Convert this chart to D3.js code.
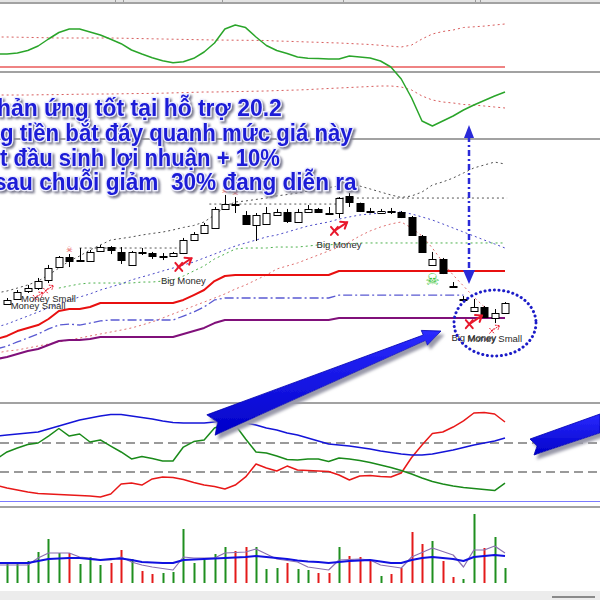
<!DOCTYPE html>
<html><head><meta charset="utf-8">
<script src="https://cdn.jsdelivr.net/npm/d3@7"></script>
<style>body{margin:0;background:#fff}svg{display:block}</style>
</head><body>
<svg id="c" width="600" height="600"></svg>
<script>
// ---------- DATA ----------
// candles (bar 0..48)
const openP  = [21.07,21.43,22.00,22.21,22.79,23.71,24.43,24.18,24.14,24.86,25.14,24.79,23.86,24.76,24.71,24.50,24.50,24.71,25.64,26.14,26.50,27.86,28.21,27.43,26.71,26.79,27.43,27.64,26.93,27.64,27.86,27.59,27.57,28.79,28.29,27.71,27.57,27.71,27.64,27.29,25.93,23.86,24.29,22.36,21.43,20.57,20.86,20.07,20.43];
const highP  = [21.50,22.07,22.43,22.93,23.86,24.50,24.64,25.07,24.93,25.29,25.21,25.14,24.86,25.07,24.79,24.71,24.79,25.79,26.21,26.86,28.00,28.86,28.71,27.71,27.57,28.00,27.86,27.86,27.86,28.14,27.93,28.00,28.71,29.00,28.31,27.93,27.86,27.93,27.71,27.36,26.00,24.79,24.36,22.64,21.64,21.43,20.93,20.71,21.21];
const lowP   = [21.00,21.36,21.86,22.07,22.57,23.64,23.71,24.07,24.07,24.84,24.64,23.93,23.79,24.57,24.29,24.21,24.46,24.64,25.57,26.07,26.43,27.84,27.57,26.77,25.57,26.77,27.41,26.86,26.91,27.61,27.57,27.54,27.21,28.00,27.64,27.57,27.50,27.50,27.21,25.93,24.77,23.79,23.21,22.32,21.39,20.55,20.07,19.71,20.36];
const closeP = [21.36,21.93,22.21,22.71,23.64,24.43,24.14,24.11,24.79,25.14,24.93,24.21,24.79,24.79,24.50,24.46,24.71,25.64,26.07,26.71,27.86,28.21,28.14,26.79,27.43,27.57,27.64,27.00,27.64,27.86,27.64,27.57,28.64,28.36,27.71,27.64,27.71,27.69,27.29,26.00,24.79,24.29,23.29,22.34,21.41,20.86,20.14,20.43,21.14];
// volume (thousands) and direction (1 = up/green, 0 = down/red)
const volume = [500,500,550,775,1100,750,750,475,650,450,500,825,600,300,225,250,275,1350,500,575,725,900,800,900,900,350,375,500,350,325,250,250,900,675,650,575,175,225,375,1275,975,1050,550,150,100,1725,875,1150,375];
const volUp  = [1,1,1,1,1,1,0,1,1,1,0,0,1,0,0,1,1,1,1,1,1,1,0,0,1,1,1,0,1,1,0,0,1,0,0,0,1,0,0,0,0,1,0,0,1,1,0,1,1];
// indicator series, bars -1..48
const volMaSlow = [500,500,500,500,550,600,612,625,625,600,575,600,612,575,525,512,500,500,575,588,600,612,625,638,650,675,650,625,600,562,538,525,500,525,550,562,575,538,500,500,575,625,650,625,600,550,650,675,700,675];
const volMaFast = [450,450,450,450,625,750,750,750,650,625,575,575,650,525,450,400,362,325,650,625,625,625,750,762,775,850,725,600,562,525,400,362,325,575,588,600,575,450,412,375,650,762,875,788,700,400,825,825,925,750];
const oscMain  = [13,13,14,16.5,21,28,34.5,38,38,35,32,27.7,23.3,17,13,9.3,6.3,4.2,5.3,8.7,15,24,38,42,39.4,30,21.5,16.5,13.5,10,8.8,8.5,8,8,11,10,9,6,0,-12,-31,-54,-59,-54,-49,-43,-38,-33.5,-29,-25];
const oscUpper = [30,30,29.8,29.6,29.4,29.2,29,29,29,29,29,29,28.8,28.6,28.4,28.2,28,27.8,27.6,27.4,27.2,27,26.9,26.8,26.7,26.6,26.5,26,25.7,25.4,25,24.7,24.3,24,23.5,23,22.5,21.7,20.8,20,22,28,33,35.5,37,39.5,40.2,40.9,42,43];
const oscLower = [-28,-28,-28,-28,-27.8,-27.7,-27.6,-27.4,-27.2,-27.1,-27,-27,-26.8,-26.6,-26.5,-26.4,-26.2,-25.9,-25.6,-25.3,-25,-25,-24.8,-24.6,-24.4,-24.2,-24,-23.6,-23.3,-23,-22.6,-22,-21.5,-21,-20.5,-20,-19.5,-19,-19,-20,-23,-29,-33,-35,-36,-37.5,-38,-39,-40,-41];
const upperBand = [21.86,22.00,22.21,22.43,22.71,23.14,23.64,24.14,24.50,24.93,25.29,25.64,25.75,25.86,26.00,26.11,26.21,26.36,26.54,26.68,26.93,27.43,28.00,28.36,28.43,28.54,28.64,28.79,28.89,29.00,29.14,29.29,29.39,29.50,29.57,29.50,29.29,29.07,28.86,28.68,28.79,29.07,29.57,29.79,30.07,30.43,30.79,31.00,31.21,31.07];
const midBand   = [19.43,19.64,19.93,20.21,20.50,20.79,21.07,21.36,21.57,21.79,22.07,22.29,22.50,22.79,23.00,23.21,23.43,23.64,23.86,24.07,24.36,24.64,24.93,25.21,25.43,25.64,25.86,26.00,26.21,26.43,26.64,26.79,26.93,27.14,27.29,27.43,27.50,27.57,27.64,27.64,27.50,27.29,27.07,26.79,26.50,26.21,25.93,25.64,25.36,25.07];
const lowerBand = [17.57,17.71,17.79,17.93,18.07,18.21,18.36,18.50,18.64,18.79,18.93,19.07,19.21,19.36,19.57,19.79,20.07,20.36,20.64,20.93,21.21,21.50,21.79,22.14,22.43,22.79,23.14,23.57,23.79,24.00,24.29,24.57,24.86,25.14,25.50,25.93,26.29,26.57,26.79,26.93,26.50,25.93,25.07,24.07,23.14,22.36,21.57,20.86,null,null];
const trailGreen = [null,null,null,null,null,null,22.21,22.36,22.50,22.57,22.57,22.57,22.57,22.57,22.64,22.64,22.71,22.79,23.07,23.43,23.79,24.29,24.64,25.00,25.07,25.07,25.07,25.14,25.14,25.14,25.21,25.29,25.29,25.36,25.36,25.43,25.43,25.43,25.43,25.43,25.43,25.43,25.43,25.43,25.43,25.43,25.43,25.43,25.43,25.43];
const stopRed    = [18.57,18.79,19.14,19.36,19.57,20.00,20.57,20.71,20.71,20.86,21.14,21.14,21.14,21.14,21.14,21.14,21.14,21.14,21.36,21.71,22.07,22.71,23.07,23.14,23.14,23.14,23.14,23.14,23.14,23.14,23.14,23.14,23.14,23.43,23.43,23.43,23.43,23.43,23.43,23.43,23.43,23.43,23.43,23.43,23.43,23.43,23.43,23.43,23.43,23.43];
const stopBlue   = [17.86,18.07,18.36,18.64,18.93,19.29,19.57,19.64,19.57,19.71,19.86,19.93,19.93,19.93,19.93,19.93,19.93,19.93,20.21,20.50,20.86,21.36,21.50,21.50,21.50,21.50,21.50,21.50,21.50,21.50,21.50,21.50,21.50,21.71,21.71,21.71,21.71,21.71,21.71,21.71,21.71,21.71,21.71,21.71,21.71,21.71,null,null,null,null];
const stopPurple = [17.14,17.29,17.50,17.71,17.86,18.14,18.43,18.50,18.50,18.57,18.71,18.71,18.71,18.71,18.71,18.71,18.71,18.71,18.93,19.14,19.36,19.71,19.93,19.93,19.93,19.93,19.93,19.93,19.93,19.93,19.93,19.93,19.93,20.07,20.07,20.07,20.07,20.07,20.07,20.07,20.07,20.07,20.07,20.07,20.07,20.07,20.07,20.07,20.07,20.07];
const resStart = [7, 19.5, 31.8];
const resEnd   = [16.7, 31.8, 48.2];
const resPrice = [25.07, 28.21, 28.64];
const adx     = [44.8,45.5,46.2,46.9,47.6,49.7,51.7,53.8,55.9,57.2,58.6,59.7,59.7,58.6,57.6,56.6,55.2,54.1,53.8,53.8,53.8,54.5,55.2,55.2,53.8,52.4,50.3,49.0,46.9,45.5,43.4,41.4,39.3,38.6,37.9,36.9,35.9,34.5,33.4,32.4,31.7,31.7,32.4,33.8,35.2,36.9,38.6,40.0,41.4,43.4];
const diPlus  = [29.0,33.8,36.6,39.0,40.0,44.8,50.0,44.8,46.2,40.7,42.1,37.9,33.8,29.0,30.7,29.3,27.6,27.6,37.2,41.0,42.1,50.3,53.1,52.4,42.8,33.8,33.1,31.0,28.6,28.3,29.0,29.0,27.2,29.7,29.0,27.9,26.6,24.8,23.1,21.0,18.6,15.9,13.4,11.7,10.3,9.3,8.6,7.9,7.2,12.4];
const diMinus = [10.7,9.0,7.6,6.2,5.2,4.8,4.5,4.1,3.8,3.4,2.8,4.8,11.7,12.4,11.0,15.2,16.6,16.2,14.8,12.8,11.0,10.0,8.3,11.0,16.6,25.5,22.8,20.7,24.1,21.4,21.0,20.7,20.3,17.9,14.5,17.2,17.6,16.9,16.6,19.3,30.0,38.6,46.6,47.6,51.0,55.2,60.7,61.0,60.0,54.5];
const adxLevels = [20, 40];
// signals
const bigMoneyIdx = [17, 32, 45];
const moneySmallIdx = [3, 4, 47];
const redSkullIdx = [6, 21, 22];
const greenSkullIdx = [41];
const noteLines = ["hản ứng tốt tại hỗ trợ 20.2", "g tiền bắt đáy quanh mức giá này", "t đầu sinh lợi nhuận + 10%", "sau chuỗi giảm\u00a0 30% đang diễn ra"];

// ---------- LAYOUT ----------
const svg = d3.select('#c');
const bars = d3.range(49);
const lineIdx = d3.range(-1, 49);
const x = d3.scaleLinear().domain([0, 48]).range([7, 505]);
const yOsc = d3.scaleLinear().domain([-70, 70]).range([137, -3]);
const yP = d3.scaleLinear().domain([14, 33]).range([403, 137]);
const yAdx = d3.scaleLinear().domain([0, 40]).range([501, 443]);
const yVol = d3.scaleLinear().domain([0, 2000]).range([583, 503]);

const defs = svg.append('defs');
const f = defs.append('filter').attr('id','sh').attr('filterUnits','userSpaceOnUse').attr('x',-20).attr('y',-20).attr('width',640).attr('height',640);
f.append('feGaussianBlur').attr('in','SourceAlpha').attr('stdDeviation',1.3);
f.append('feOffset').attr('dx',2).attr('dy',2).attr('result','b');
f.append('feFlood').attr('flood-color','#7c7c90');
f.append('feComposite').attr('in2','b').attr('operator','in');
const fm = f.append('feMerge'); fm.append('feMergeNode'); fm.append('feMergeNode').attr('in','SourceGraphic');
const f2 = defs.append('filter').attr('id','sh2').attr('x','-10%').attr('y','-30%').attr('width','130%').attr('height','170%');
f2.append('feGaussianBlur').attr('in','SourceAlpha').attr('stdDeviation',1.5);
f2.append('feOffset').attr('dx',3).attr('dy',4).attr('result','b');
f2.append('feFlood').attr('flood-color','#9a9aaa');
f2.append('feComposite').attr('in2','b').attr('operator','in');
const fm2 = f2.append('feMerge'); fm2.append('feMergeNode'); fm2.append('feMergeNode').attr('in','SourceGraphic');
const grad = defs.append('linearGradient').attr('id','ag').attr('x1',0).attr('y1',0).attr('x2',0).attr('y2',1);
grad.append('stop').attr('offset','0%').attr('stop-color','#2a2aff');
grad.append('stop').attr('offset','100%').attr('stop-color','#0000c8');

// frame
svg.append('rect').attr('width',600).attr('height',600).attr('fill','#fff');
svg.append('rect').attr('x',0).attr('y',0).attr('width',600).attr('height',3).attr('fill','#e4e4e4');
[115,123,222,343,475,480].forEach(v=>svg.append('line').attr('x1',v+0.5).attr('x2',v+0.5).attr('y1',0).attr('y2',3).attr('stroke','#9a9a9a'));
[3, 72, 139, 403, 507].forEach(v=>svg.append('line').attr('x1',0).attr('x2',600).attr('y1',v).attr('y2',v).attr('stroke','#a2a2a2').attr('stroke-width',2));
svg.append('rect').attr('x',0).attr('y',591).attr('width',600).attr('height',9).attr('fill','#ececec');
svg.append('line').attr('x1',552).attr('x2',595).attr('y1',597).attr('y2',597).attr('stroke','#8a8a8a').attr('stroke-width',2);

function series(arr, yS){
  return d3.line().defined(d=>d[1]!=null).x(d=>x(d[0])).y(d=>yS(d[1]))(lineIdx.map((k,j)=>[k,arr[j]]));
}
function drawLine(arr, yS, color, w, dash){
  const p = svg.append('path').attr('d',series(arr,yS)).attr('fill','none').attr('stroke',color).attr('stroke-width',w).attr('stroke-linejoin','round');
  if(dash) p.attr('stroke-dasharray',dash);
  return p;
}

// ---------- oscillator panel ----------
svg.append('line').attr('x1',0).attr('x2',x(48)).attr('y1',yOsc(0)).attr('y2',yOsc(0)).attr('stroke','#ea5a5a').attr('stroke-width',1.6);
drawLine(oscUpper, yOsc, '#d85c5c', 1, '2,3');
drawLine(oscLower, yOsc, '#d85c5c', 1, '2,3');
drawLine(oscMain, yOsc, '#2aa52a', 1.5);

// ---------- price panel ----------
drawLine(upperBand, yP, '#505050', 1, '2,3');
resStart.forEach((s,k)=>svg.append('line').attr('x1',x(s)).attr('x2',x(resEnd[k])).attr('y1',yP(resPrice[k])).attr('y2',yP(resPrice[k])).attr('stroke','#555').attr('stroke-dasharray','2,3'));
drawLine(trailGreen, yP, '#4cb04c', 1, '2,3');
drawLine(midBand, yP, '#4a4ac8', 1, '2,3');
drawLine(lowerBand, yP, '#e07070', 1, '2,3');
drawLine(stopPurple, yP, '#80107a', 2);
drawLine(stopBlue, yP, '#5a5ad2', 1.3, '9,3,2,3');
drawLine(stopRed, yP, '#e81010', 2);

// candles
const cg = svg.append('g');
bars.forEach(i=>{
  const cx = Math.round(x(i))+0.5;
  cg.append('line').attr('x1',cx).attr('x2',cx).attr('y1',yP(highP[i])).attr('y2',yP(lowP[i])).attr('stroke','#000');
  const t = Math.min(yP(openP[i]),yP(closeP[i])), b = Math.max(yP(openP[i]),yP(closeP[i]));
  const up = closeP[i] >= openP[i];
  cg.append('rect').attr('x',cx-3.5).attr('y',Math.round(t)+0.5).attr('width',7).attr('height',Math.max(1,Math.round(b-t)))
    .attr('fill', up ? '#fff' : '#000').attr('stroke','#000').attr('stroke-width',1);
});

// signals
function signal(cx, cy, s, dotted){
  const g = svg.append('g').attr('stroke','#e8182c').attr('stroke-width',dotted?1:2).attr('fill','none').attr('stroke-linecap','round');
  if(dotted) g.attr('stroke-dasharray','1,1.5');
  g.append('path').attr('d',`M${cx-7*s},${cy-1*s}L${cx-1*s},${cy+6*s}M${cx-7*s},${cy+6*s}L${cx-1*s},${cy-1*s}`);
  g.append('path').attr('d',`M${cx-4*s},${cy+2.5*s}L${cx+7*s},${cy-5*s}`);
  g.append('path').attr('d',`M${cx+1*s},${cy-5.5*s}L${cx+7*s},${cy-5*s}L${cx+5*s},${cy+0.5*s}`);
}
bigMoneyIdx.forEach(i=>{
  signal(x(i), yP(lowP[i])+10, 1.15, false);
  svg.append('text').attr('x',x(i)).attr('y',yP(lowP[i])+30).attr('text-anchor','middle')
    .attr('font-family','Liberation Sans, Arial, sans-serif').attr('font-size',9.5).attr('fill','#2a2a2a').text('Big Money');
});
moneySmallIdx.forEach(i=>{
  signal(x(i), yP(lowP[i])+6, 0.7, true);
  svg.append('text').attr('x',x(i)).attr('y',yP(lowP[i])+19).attr('text-anchor','middle')
    .attr('font-family','Liberation Sans, Arial, sans-serif').attr('font-size',9.5).attr('fill','#2a2a2a').text('Money Small');
});
redSkullIdx.forEach(i=>svg.append('text').attr('x',x(i)).attr('y',yP(highP[i])-2).attr('text-anchor','middle')
  .attr('font-family','DejaVu Sans').attr('font-size',7.5).attr('fill','#e02020').text('☠'));
greenSkullIdx.forEach(i=>svg.append('text').attr('x',x(i)).attr('y',yP(lowP[i])+19).attr('text-anchor','middle')
  .attr('font-family','DejaVu Sans').attr('font-size',16).attr('fill','#2fbf2f').text('☠'));

// ---------- ADX panel ----------
adxLevels.forEach(v=>svg.append('line').attr('x1',0).attr('x2',600).attr('y1',yAdx(v)).attr('y2',yAdx(v)).attr('stroke','#7a7a7a').attr('stroke-width',1.5).attr('stroke-dasharray','9,5'));
svg.append('line').attr('x1',0).attr('x2',600).attr('y1',yAdx(0)+0.5).attr('y2',yAdx(0)+0.5).attr('stroke','#7a7aff').attr('stroke-width',1);
drawLine(diMinus, yAdx, '#e81818', 1.5);
drawLine(diPlus, yAdx, '#1a8a1a', 1.5);
drawLine(adx, yAdx, '#1414d8', 1.6);

// ---------- volume panel ----------
bars.forEach(i=>{
  svg.append('rect').attr('x',Math.round(x(i))-0.5).attr('y',yVol(volume[i])).attr('width',2).attr('height',yVol(0)-yVol(volume[i]))
    .attr('fill', volUp[i] ? '#1f8f1f' : '#e41a1a');
});
drawLine(volMaFast, yVol, '#8a6fb0', 1.2);
drawLine(volMaSlow, yVol, '#1010e0', 2.2);

// ---------- annotations ----------
svg.append('ellipse').attr('cx',495).attr('cy',323).attr('rx',41).attr('ry',33)
  .attr('fill','none').attr('stroke','#1c1cc8').attr('stroke-width',3).attr('stroke-dasharray','0.1,4.6').attr('stroke-linecap','round');
const vx = 469;
svg.append('line').attr('x1',vx).attr('x2',vx).attr('y1',136).attr('y2',272).attr('stroke','#2a2ad8').attr('stroke-width',2.5).attr('stroke-dasharray','6,3,2,3');
svg.append('path').attr('d',`M${vx},125L${vx-5},138L${vx+5},138Z`).attr('fill','#2a2ad8');
svg.append('path').attr('d',`M${vx},284L${vx-6},270L${vx+6},270Z`).attr('fill','#2a2ad8');

// notes: [left, baseline, right] (text runs off the left edge as in the reference)
const notePos = [[-3,116,282],[0,141,353],[0,166,280],[-6,190,357]];
const noteG = svg.append('g').attr('filter','url(#sh)');
noteLines.forEach((t,k)=>{
  const tx = noteG.append('text').attr('x',0).attr('y',0)
    .attr('font-family','Liberation Sans, Arial, sans-serif').attr('font-weight','bold').attr('font-size',23)
    .attr('fill','#1b1bd6').attr('stroke','#eeeeff').attr('stroke-width',2.6).attr('paint-order','stroke')
    .text(t);
  const bb = tx.node().getBBox();
  const sx = bb.width > 0 ? (notePos[k][2]-notePos[k][0]) / bb.width : 1;
  tx.attr('transform',`translate(${notePos[k][0] - bb.x*sx},${notePos[k][1]}) scale(${sx},1)`);
});

// big arrows
function arrowPoly(T, P, wTail, wEnd, headL, headW, notch){
  const L = Math.hypot(P[0]-T[0], P[1]-T[1]);
  const d = [(P[0]-T[0])/L, (P[1]-T[1])/L], n = [-d[1], d[0]];
  const H0 = [P[0]-headL*d[0], P[1]-headL*d[1]];
  const pt = (b, s) => [b[0]+s*n[0], b[1]+s*n[1]];
  return [pt(T,-wTail), pt(H0,-wEnd), pt(H0,-headW), P, pt(H0,headW), pt(H0,wEnd), pt(T,wTail), [T[0]+notch*d[0], T[1]+notch*d[1]]];
}
const a1 = arrowPoly([211,425],[441,331],11,3,18,8,7);
svg.append('path').attr('d','M'+a1.map(p=>p.join(',')).join('L')+'Z').attr('fill','url(#ag)').attr('stroke','#0000b0').attr('stroke-width',0.8).attr('filter','url(#sh2)');
const a2 = [[530,439],[600,414],[600,433],[534,455],[537,446]];
svg.append('path').attr('d','M'+a2.map(p=>p.join(',')).join('L')+'Z').attr('fill','url(#ag)').attr('stroke','#0000b0').attr('stroke-width',0.8).attr('filter','url(#sh2)');
</script>
</body></html>
